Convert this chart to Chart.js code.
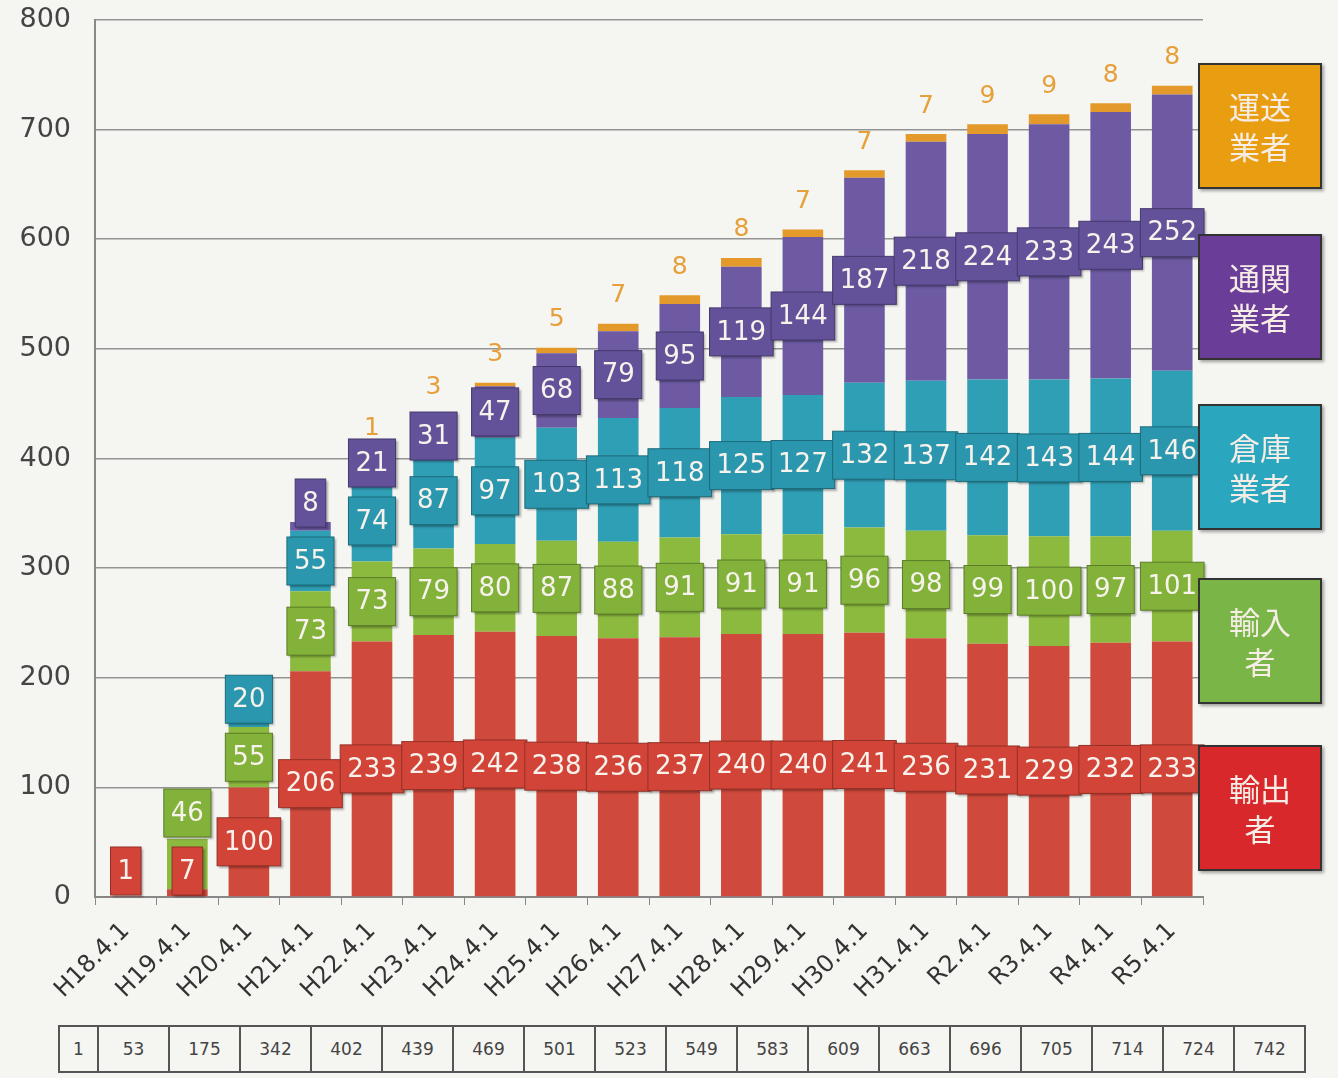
<!DOCTYPE html>
<html lang="ja">
<head>
<meta charset="utf-8">
<script src="https://cdn.jsdelivr.net/npm/chart.js@4.4.1/dist/chart.umd.min.js"></script>
<style>
  html, body { margin: 0; padding: 0; background: #f5f5f2; }
  #wrap { position: relative; width: 1338px; height: 1078px; overflow: hidden; }
  #chartBox { position: absolute; left: 0; top: 0; width: 1338px; height: 1010px; }
  .legend { position: absolute; left: 1198px; width: 124px; height: 126px; border: 2px solid #333;
            box-sizing: border-box; color: #f6eee6; font-family: "Noto Sans CJK JP", sans-serif;
            font-size: 31px; line-height: 40px; text-align: center; display: flex; flex-direction: column;
            justify-content: center; box-shadow: 2px 2px 3px rgba(0,0,0,0.35); }
  #totals { position: absolute; left: 58px; top: 1025px; border-collapse: collapse; }
  #totals td { border: 2px solid #555; height: 44px; padding: 0; text-align: center;
               font-family: "DejaVu Sans", sans-serif; font-size: 17px; color: #444; }
</style>
</head>
<body>
<div id="wrap">
  <div id="chartBox"><canvas id="barChart"></canvas></div>
  <div id="legendArea"></div>
  <table id="totals"><tr id="totalsRow"></tr></table>
</div>
<script>
// categorias (datas) e valores de cada série
var categories = ["H18.4.1", "H19.4.1", "H20.4.1", "H21.4.1", "H22.4.1", "H23.4.1", "H24.4.1", "H25.4.1", "H26.4.1",
                  "H27.4.1", "H28.4.1", "H29.4.1", "H30.4.1", "H31.4.1", "R2.4.1", "R3.4.1", "R4.4.1", "R5.4.1"];
var exporters  = [1, 7, 100, 206, 233, 239, 242, 238, 236, 237, 240, 240, 241, 236, 231, 229, 232, 233];
var importers  = [0, 46, 55, 73, 73, 79, 80, 87, 88, 91, 91, 91, 96, 98, 99, 100, 97, 101];
var warehouses = [0, 0, 20, 55, 74, 87, 97, 103, 113, 118, 125, 127, 132, 137, 142, 143, 144, 146];
var brokers    = [0, 0, 0, 8, 21, 31, 47, 68, 79, 95, 119, 144, 187, 218, 224, 233, 243, 252];
var carriers   = [0, 0, 0, 0, 1, 3, 3, 5, 7, 8, 8, 7, 7, 7, 9, 9, 8, 8];
var totals     = [1, 53, 175, 342, 402, 439, 469, 501, 523, 549, 583, 609, 663, 696, 705, 714, 724, 742];
var seriesNames = ["輸出者", "輸入者", "倉庫業者", "通関業者", "運送業者"];

// cores: barra, caixa do rótulo, legenda
var barColors    = ["#cf4a3c", "#8cba3e", "#2f9fb5", "#6d5aa3", "#e39a2a"];
var labelColors  = ["#d24437", "#82b23a", "#2a97ae", "#63519a", "#e39a2a"];
var legendColors = ["#d9282b", "#7ab547", "#2ba6bf", "#6a3d98", "#e99e12"];

var seriesData = [exporters, importers, warehouses, brokers, carriers];

function shade(hex, f) {
  var n = parseInt(hex.slice(1), 16);
  var r = (n >> 16) & 255, g = (n >> 8) & 255, b = n & 255;
  function c(v) { return Math.max(0, Math.min(255, Math.round(f < 0 ? v * (1 + f) : v + (255 - v) * f))); }
  return "rgb(" + c(r) + "," + c(g) + "," + c(b) + ")";
}

// gradiente horizontal para dar o efeito de cilindro
function barFill(ctx, color) {
  var chart = ctx.chart;
  var el = ctx.element;
  if (!chart.chartArea || !el || !el.width) return color;
  var x0 = el.x - el.width / 2, x1 = el.x + el.width / 2;
  var g = chart.ctx.createLinearGradient(x0, 0, x1, 0);
  g.addColorStop(0, shade(color, -0.25));
  g.addColorStop(0.3, shade(color, 0.12));
  g.addColorStop(0.6, color);
  g.addColorStop(1, shade(color, -0.35));
  return g;
}

var datasets = seriesData.map(function(arr, i) {
  return {
    label: seriesNames[i],
    data: arr,
    backgroundColor: function(ctx) { return barFill(ctx, barColors[i]); },
    borderWidth: 0,
    barPercentage: 0.66,
    categoryPercentage: 1.0
  };
});

// rótulos de valor (caixas coloridas) e números laranja no topo
var valueLabels = {
  id: "valueLabels",
  afterDatasetsDraw: function(chart) {
    var ctx = chart.ctx;
    var y0 = chart.scales.y.getPixelForValue(0);
    ctx.save();
    ctx.font = "26px 'DejaVu Sans'";
    ctx.textAlign = "center";
    ctx.textBaseline = "middle";
    var lastY = categories.map(function() { return Infinity; });
    for (var d = 0; d < 4; d++) {
      var meta = chart.getDatasetMeta(d);
      meta.data.forEach(function(el, i) {
        var v = seriesData[d][i];
        if (!v) return;
        // centro do segmento, empurrado para cima se colidir com o rótulo de baixo
        var cy = Math.min((el.y + el.base) / 2, y0 - 26, lastY[i] - 58);
        lastY[i] = cy;
        var txt = String(v);
        var w = ctx.measureText(txt).width + 14;
        var h = 48;
        ctx.fillStyle = labelColors[d];
        ctx.shadowColor = "rgba(0,0,0,0.3)";
        ctx.shadowOffsetX = 2; ctx.shadowOffsetY = 2; ctx.shadowBlur = 2;
        ctx.fillRect(el.x - w / 2, cy - h / 2, w, h);
        ctx.shadowColor = "transparent";
        ctx.strokeStyle = shade(labelColors[d], -0.3);
        ctx.lineWidth = 1;
        ctx.strokeRect(el.x - w / 2, cy - h / 2, w, h);
        ctx.fillStyle = "#f7f2ec";
        ctx.fillText(txt, el.x, cy + 1);
      });
    }
    var top = chart.getDatasetMeta(4);
    ctx.fillStyle = "#e6a03a";
    ctx.font = "25px 'DejaVu Sans'";
    top.data.forEach(function(el, i) {
      var v = carriers[i];
      if (!v) return;
      ctx.fillText(String(v), el.x, el.y - 28);
    });
    ctx.restore();
  }
};

var ctxBar = document.getElementById("barChart").getContext("2d");
new Chart(ctxBar, {
  type: "bar",
  data: { labels: categories, datasets: datasets },
  options: {
    responsive: true,
    maintainAspectRatio: false,
    animation: false,
    layout: { padding: { top: 20, right: 135, left: 0, bottom: 0 } },
    plugins: { legend: { display: false }, tooltip: { enabled: false } },
    scales: {
      x: {
        stacked: true,
        afterFit: function(s) { s.height = 113; s.paddingLeft = 0; s.paddingRight = 0; },
        grid: { drawOnChartArea: false, color: "#888", tickLength: 8, offset: true },
        border: { color: "#888", width: 2 },
        ticks: { color: "#333", font: { family: "DejaVu Sans", size: 24 }, minRotation: 45, maxRotation: 45, padding: 12 }
      },
      y: {
        stacked: true,
        min: 0, max: 800,
        afterFit: function(s) { s.width = 95; s.paddingTop = 0; s.paddingBottom = 0; },
        grid: { color: "#939393", lineWidth: 1.6, drawTicks: false },
        border: { color: "#888", width: 2 },
        ticks: { stepSize: 100, color: "#444", font: { family: "DejaVu Sans", size: 27 }, padding: 24 }
      }
    }
  },
  plugins: [valueLabels]
});

// legenda à direita (de cima para baixo: 運送業者 ... 輸出者)
var legendTops = [745, 578, 404, 234, 63];
var legendArea = document.getElementById("legendArea");
seriesNames.forEach(function(name, i) {
  var div = document.createElement("div");
  div.className = "legend";
  div.style.top = legendTops[i] + "px";
  div.style.background = legendColors[i];
  div.innerHTML = "<span>" + name.slice(0, 2) + "</span><span>" + name.slice(2) + "</span>";
  legendArea.appendChild(div);
});

// tabela de totais
var row = document.getElementById("totalsRow");
totals.forEach(function(t, i) {
  var td = document.createElement("td");
  td.style.width = (i === 0 ? 37 : 69) + "px";
  td.textContent = t;
  row.appendChild(td);
});
</script>
</body>
</html>
